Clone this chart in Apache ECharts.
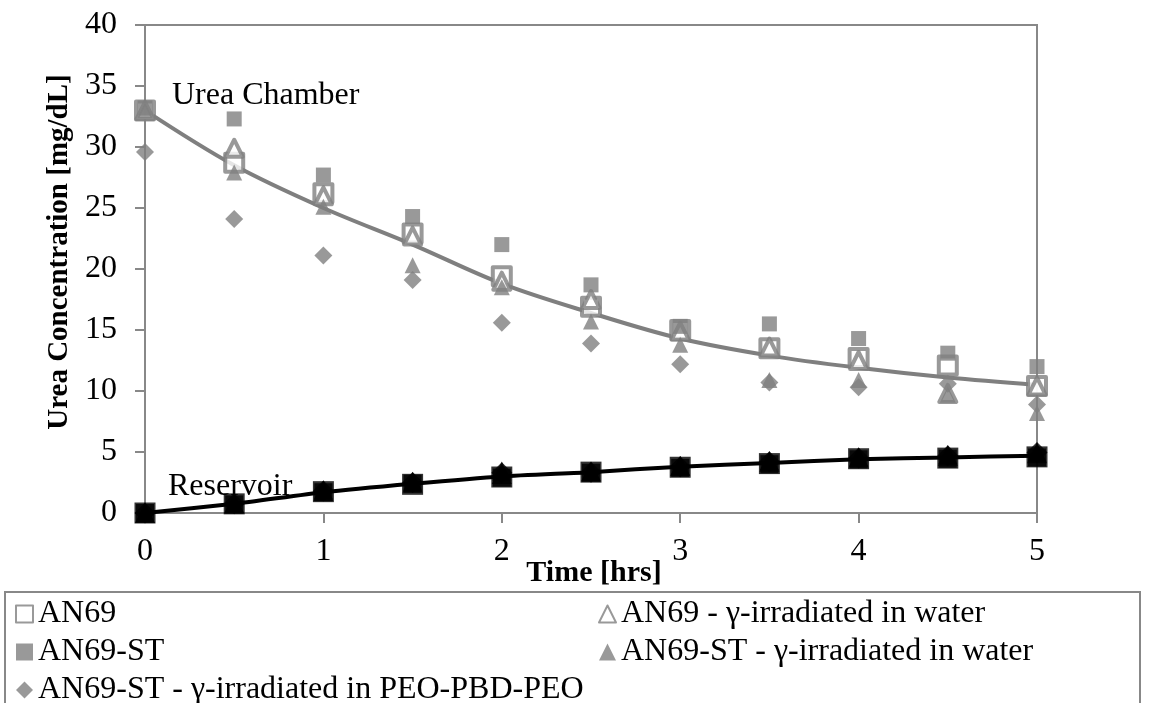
<!DOCTYPE html>
<html>
<head>
<meta charset="utf-8">
<script src="https://cdn.jsdelivr.net/npm/echarts@6/dist/echarts.min.js"></script>
<style>
html,body{margin:0;padding:0;background:#fff;}
#chart{width:1154px;height:703px;}
</style>
</head>
<body>
<div id="chart"></div>
<script>
// ---- data ----
const time = [0, 0.5, 1, 1.5, 2, 2.5, 3, 3.5, 4, 4.5, 5];
const seriesNames = [
  'AN69',
  'AN69 - \u03b3-irradiated in water',
  'AN69-ST',
  'AN69-ST - \u03b3-irradiated in water',
  'AN69-ST - \u03b3-irradiated in PEO-PBD-PEO'
];
// urea chamber
const chAN69      = [33.0, 28.7, 26.2, 22.9, 19.4, 16.9, 15.0, 13.5, 12.7, 12.1, 10.4];
const chAN69W     = [33.0, 29.9, 26.0, 22.7, 19.0, 17.5, 14.9, 13.6, 12.5, 9.8, 10.4];
const chAN69ST    = [33.2, 32.3, 27.7, 24.3, 22.0, 18.7, 15.3, 15.5, 14.3, 13.1, 12.0];
const chAN69STW   = [33.0, 27.9, 25.1, 20.3, 18.5, 15.7, 13.8, 10.9, 10.9, 9.7, 8.2];
const chAN69STP   = [29.6, 24.1, 21.1, 19.1, 15.6, 13.9, 12.2, 10.7, 10.3, 10.6, 8.9];
// reservoir
const rsAN69      = [0, 0.75, 1.75, 2.35, 2.95, 3.35, 3.75, 4.05, 4.45, 4.5, 4.6];
const rsAN69W     = [0, 0.8, 1.8, 2.5, 3.2, 3.4, 3.85, 4.2, 4.55, 4.7, 4.9];
const rsAN69ST    = [0, 0.7, 1.7, 2.4, 2.9, 3.3, 3.7, 4.0, 4.4, 4.45, 4.55];
const rsAN69STW   = [0, 0.8, 1.9, 2.6, 3.45, 3.4, 3.9, 4.3, 4.6, 4.8, 5.0];
const rsAN69STP   = [0, 0.75, 1.8, 2.5, 3.3, 3.35, 3.8, 4.2, 4.5, 4.7, 4.95];
// fitted curves
const fitChamber   = [33.0, 28.5, 25.0, 22.0, 18.8, 16.4, 14.3, 12.9, 11.9, 11.1, 10.5];
const fitReservoir = [0, 0.75, 1.7, 2.4, 3.0, 3.35, 3.8, 4.1, 4.4, 4.55, 4.7];
const yTicks = [0, 5, 10, 15, 20, 25, 30, 35, 40];
const xTicks = [0, 1, 2, 3, 4, 5];

const pts = arr => time.map((t, i) => [t, arr[i]]);
const GRAY = '#7f7f7f';
const FONT = '"Liberation Serif", "Times New Roman", serif';

const markerStyles = [
  {symbol: 'rect', size: 18, item: {color: '#ffffff', borderColor: GRAY, borderWidth: 4, borderJoin: 'round'}},
  {symbol: 'triangle', size: 17, item: {color: '#ffffff', borderColor: GRAY, borderWidth: 4, borderJoin: 'round'}},
  {symbol: 'rect', size: 15, item: {color: GRAY}},
  {symbol: 'triangle', size: 16, item: {color: GRAY}},
  {symbol: 'diamond', size: 18, item: {color: GRAY}}
];
const chamberData = [chAN69, chAN69W, chAN69ST, chAN69STW, chAN69STP];
const reservoirData = [rsAN69, rsAN69W, rsAN69ST, rsAN69STW, rsAN69STP];

const series = [];
series.push({
  name: 'fitChamber', type: 'line', data: pts(fitChamber), smooth: 0.35,
  showSymbol: false, symbol: 'none', lineStyle: {color: GRAY, width: 4}, z: 1, silent: true
});
series.push({
  name: 'fitReservoir', type: 'line', data: pts(fitReservoir), smooth: 0.2,
  showSymbol: false, symbol: 'none', lineStyle: {color: '#000', width: 4}, z: 1, silent: true
});
reservoirData.forEach((arr, k) => {
  const m = markerStyles[k];
  series.push({
    name: seriesNames[k] + ' (reservoir)', type: 'scatter', data: pts(arr),
    symbol: m.symbol, symbolSize: m.size + 3,
    itemStyle: {color: '#000', borderColor: '#000', borderWidth: 0}, z: 3
  });
});
chamberData.forEach((arr, k) => {
  const m = markerStyles[k];
  series.push({
    name: seriesNames[k], type: 'scatter', data: pts(arr),
    symbol: m.symbol, symbolSize: m.size, itemStyle: m.item, z: 4
  });
});

const chart = echarts.init(document.getElementById('chart'), null, {renderer: 'canvas'});
const legendCommon = {
  orient: 'vertical', itemWidth: 17, itemHeight: 17, itemGap: 6, padding: 0, height: 140,
  textStyle: {fontFamily: FONT, fontSize: 32, color: '#000', lineHeight: 28},
  selectedMode: false
};
chart.setOption({
  animation: false,
  backgroundColor: '#fff',
  grid: {left: 145, right: 117, top: 25, bottom: 190, show: true, borderColor: '#888', borderWidth: 2, backgroundColor: 'transparent'},
  xAxis: {
    type: 'value', min: xTicks[0], max: xTicks[xTicks.length - 1], interval: 1,
    splitLine: {show: false},
    axisLine: {lineStyle: {color: '#888', width: 2}},
    axisTick: {length: 10, lineStyle: {color: '#888', width: 2}},
    axisLabel: {fontFamily: FONT, fontSize: 32, color: '#000', margin: 23}
  },
  yAxis: {
    type: 'value', min: yTicks[0], max: yTicks[yTicks.length - 1], interval: 5,
    splitLine: {show: false},
    axisLine: {show: true, lineStyle: {color: '#888', width: 2}},
    axisTick: {show: true, length: 10, lineStyle: {color: '#888', width: 2}},
    axisLabel: {fontFamily: FONT, fontSize: 32, color: '#000', margin: 28}
  },
  legend: [
    Object.assign({left: 15, top: 598, data: [seriesNames[0], seriesNames[2], seriesNames[4]]}, legendCommon),
    Object.assign({left: 598, top: 598, data: [seriesNames[1], seriesNames[3]]}, legendCommon)
  ],
  graphic: [
    {type: 'rect', shape: {x: 5, y: 592, width: 1135, height: 130}, style: {fill: 'none', stroke: '#888', lineWidth: 2}, z: -1},
    {type: 'text', x: 172, y: 96, style: {text: 'Urea Chamber', font: '32px ' + FONT, fill: '#000', textVerticalAlign: 'middle'}},
    {type: 'text', x: 168, y: 487, style: {text: 'Reservoir', font: '32px ' + FONT, fill: '#000', textVerticalAlign: 'middle'}},
    {type: 'text', x: 594, y: 573, style: {text: 'Time [hrs]', font: 'bold 30px ' + FONT, fill: '#000', textAlign: 'center', textVerticalAlign: 'middle'}},
    {type: 'text', x: 60, y: 252, rotation: Math.PI / 2, style: {text: 'Urea Concentration [mg/dL]', font: 'bold 29px ' + FONT, fill: '#000', textAlign: 'center', textVerticalAlign: 'middle'}}
  ],
  series: series
});
</script>
</body>
</html>
